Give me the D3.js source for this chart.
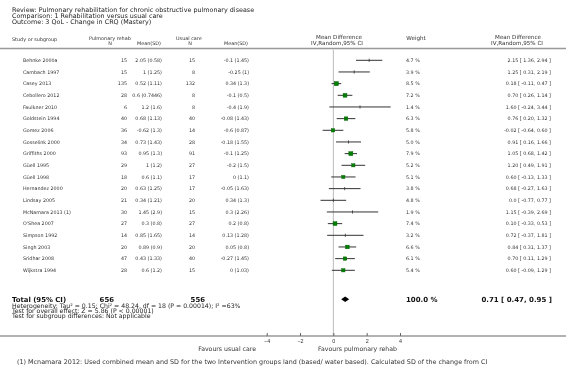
<!DOCTYPE html>
<html>
<head>
<meta charset="utf-8">
<script src="https://cdn.jsdelivr.net/npm/d3@7"></script>
<style>
  html, body { margin: 0; padding: 0; background: #fff; }
  #wrap { will-change: transform; background: transparent; }
  svg { display: block; font-family: "DejaVu Sans", Verdana, sans-serif; }
</style>
</head>
<body>
<div id="wrap"><svg id="chart" width="566" height="373"></svg></div>
<script>
// forest plot: pulmonary rehab vs usual care, CRQ mastery
const titleLines = [
  'Review:  Pulmonary rehabilitation for chronic obstructive pulmonary disease',
  'Comparison:  1 Rehabilitation versus usual care',
  'Outcome:  3 QoL - Change in CRQ (Mastery)'
];
const studies = ['Behnke 2000a', 'Cambach 1997', 'Casey 2013', 'Cebollero 2012', 'Faulkner 2010',
  'Goldstein 1994', 'Gomez 2006', 'Gosselink 2000', 'Griffiths 2000', 'Güell 1995', 'Güell 1998',
  'Hernandez 2000', 'Lindsay 2005', 'McNamara 2013 (1)', "O'Shea 2007", 'Simpson 1992',
  'Singh 2003', 'Sridhar 2008', 'Wijkstra 1994'];
const nRehab = [15, 15, 135, 28, 6, 40, 36, 34, 93, 29, 18, 20, 21, 30, 27, 14, 20, 47, 28];
const meanRehab = ['2.05 (0.58)', '1 (1.25)', '0.52 (1.11)', '0.6 (0.7446)', '1.2 (1.6)', '0.68 (1.13)',
  '-0.62 (1.3)', '0.73 (1.43)', '0.95 (1.3)', '1 (1.2)', '0.6 (1.1)', '0.63 (1.25)', '0.34 (1.21)',
  '1.45 (2.9)', '0.3 (0.8)', '0.85 (1.65)', '0.89 (0.9)', '0.43 (1.33)', '0.6 (1.2)'];
const nUsual = [15, 8, 132, 8, 8, 40, 14, 28, 91, 27, 17, 17, 20, 15, 27, 14, 20, 40, 15];
const meanUsual = ['-0.1 (1.45)', '-0.25 (1)', '0.34 (1.3)', '-0.1 (0.5)', '-0.4 (1.9)', '-0.08 (1.43)',
  '-0.6 (0.87)', '-0.18 (1.55)', '-0.1 (1.25)', '-0.2 (1.5)', '0 (1.1)', '-0.05 (1.63)', '0.34 (1.3)',
  '0.3 (2.26)', '0.2 (0.8)', '0.13 (1.28)', '0.05 (0.8)', '-0.27 (1.45)', '0 (1.03)'];
const weights = [4.7, 3.9, 8.5, 7.2, 1.4, 6.3, 5.8, 5.0, 7.9, 5.2, 5.1, 3.8, 4.8, 1.9, 7.4, 3.2, 6.6, 6.1, 5.4];
const md = [2.15, 1.25, 0.18, 0.70, 1.60, 0.76, -0.02, 0.91, 1.05, 1.20, 0.60, 0.68, 0.0, 1.15, 0.10, 0.72, 0.84, 0.70, 0.60];
const lo = [1.36, 0.31, -0.11, 0.26, -0.24, 0.20, -0.64, 0.16, 0.68, 0.49, -0.13, -0.27, -0.77, -0.39, -0.33, -0.37, 0.31, 0.11, -0.09];
const hi = [2.94, 2.19, 0.47, 1.14, 3.44, 1.32, 0.60, 1.66, 1.42, 1.91, 1.33, 1.63, 0.77, 2.69, 0.53, 1.81, 1.37, 1.29, 1.29];
const ciText = ['2.15 [ 1.36, 2.94 ]', '1.25 [ 0.31, 2.19 ]', '0.18 [ -0.11, 0.47 ]', '0.70 [ 0.26, 1.14 ]',
  '1.60 [ -0.24, 3.44 ]', '0.76 [ 0.20, 1.32 ]', '-0.02 [ -0.64, 0.60 ]', '0.91 [ 0.16, 1.66 ]',
  '1.05 [ 0.68, 1.42 ]', '1.20 [ 0.49, 1.91 ]', '0.60 [ -0.13, 1.33 ]', '0.68 [ -0.27, 1.63 ]',
  '0.0 [ -0.77, 0.77 ]', '1.15 [ -0.39, 2.69 ]', '0.10 [ -0.33, 0.53 ]', '0.72 [ -0.37, 1.81 ]',
  '0.84 [ 0.31, 1.37 ]', '0.70 [ 0.11, 1.29 ]', '0.60 [ -0.09, 1.29 ]'];
const total = { nRehab: 656, nUsual: 556, weight: '100.0 %', md: 0.71, lo: 0.47, hi: 0.95, text: '0.71 [ 0.47, 0.95 ]' };
const notes = [
  'Heterogeneity: Tau² = 0.15; Chi² = 48.24, df = 18 (P = 0.00014); I² =63%',
  'Test for overall effect: Z = 5.86 (P < 0.00001)',
  'Test for subgroup differences: Not applicable'
];
const tickValues = [-4, -2, 0, 2, 4];
const footnote = '(1) Mcnamara 2012: Used combined mean and SD for the two Intervention groups land (based/ water based). Calculated SD of the change from CI';

const svg = d3.select('#chart');
const W = 566;
const fs = 4.8, ink = '#333';
const x = d3.scaleLinear().domain([-4, 4]).range([266.7, 400]);
const y = d3.scaleLinear().domain([0, studies.length - 1]).range([60.3, 270.3]);
const sq = d3.scaleSqrt().domain([5.05, 8.5]).range([3.2, 4.2]);
const yTotal = 299.3, yAxis = 336, yTop = 48.5;

function txt(xp, yp, s, opt = {}) {
  return svg.append('text').attr('x', xp).attr('y', yp).attr('dy', '0.35em')
    .attr('font-size', opt.size || fs).attr('fill', opt.fill || ink)
    .attr('font-weight', opt.bold ? 'bold' : null)
    .attr('text-anchor', opt.anchor || 'start').text(s);
}

// titles
titleLines.forEach((t, i) => txt(12, 9.8 + i * 6, t, { size: 6.4, fill: '#222' }));

// column headers
txt(12, 39, 'Study or subgroup', { size: 4.9 });
txt(89, 38, 'Pulmonary rehab', { size: 4.9 });
txt(110, 43.5, 'N', { anchor: 'middle', size: 4.9 });
txt(161, 43.5, 'Mean(SD)', { anchor: 'end', size: 4.9 });
txt(176, 38, 'Usual care', { size: 4.9 });
txt(190, 43.5, 'N', { anchor: 'middle', size: 4.9 });
txt(248, 43.5, 'Mean(SD)', { anchor: 'end', size: 4.9 });
txt(339, 37.5, 'Mean Difference', { anchor: 'middle', size: 5.6 });
txt(337, 43, 'IV,Random,95% CI', { anchor: 'middle', size: 5.6 });
txt(416, 38, 'Weight', { anchor: 'middle', size: 5.6 });
txt(518, 37.5, 'Mean Difference', { anchor: 'middle', size: 5.6 });
txt(517, 43, 'IV,Random,95% CI', { anchor: 'middle', size: 5.6 });

svg.append('line').attr('x1', 0).attr('x2', W).attr('y1', yTop).attr('y2', yTop)
  .attr('stroke', '#999').attr('stroke-width', 1.5);

// zero line
svg.append('line').attr('x1', x(0)).attr('x2', x(0)).attr('y1', yTop + 1).attr('y2', yAxis)
  .attr('stroke', '#bbb').attr('stroke-width', 1);

// study rows
const rows = svg.selectAll('g.row').data(studies).join('g').attr('class', 'row')
  .attr('transform', (d, i) => `translate(0,${y(i)})`);
rows.append('text').attr('x', 23).text(d => d);
rows.append('text').attr('x', 127).attr('text-anchor', 'end').text((d, i) => nRehab[i]);
rows.append('text').attr('x', 162).attr('text-anchor', 'end').text((d, i) => meanRehab[i]);
rows.append('text').attr('x', 195).attr('text-anchor', 'end').text((d, i) => nUsual[i]);
rows.append('text').attr('x', 249).attr('text-anchor', 'end').text((d, i) => meanUsual[i]);
rows.append('text').attr('x', 406).text((d, i) => weights[i].toFixed(1) + ' %');
rows.append('text').attr('x', 551).attr('text-anchor', 'end').text((d, i) => ciText[i]);
rows.selectAll('text').attr('dy', '0.35em').attr('font-size', fs).attr('fill', ink);

rows.append('line').attr('x1', (d, i) => x(lo[i])).attr('x2', (d, i) => x(hi[i]))
  .attr('stroke', '#333').attr('stroke-width', 1);
rows.filter((d, i) => weights[i] < 5.05).append('line')
  .attr('x1', d => x(md[studies.indexOf(d)])).attr('x2', d => x(md[studies.indexOf(d)]))
  .attr('y1', -1.6).attr('y2', 1.6).attr('stroke', '#333').attr('stroke-width', 0.8);
rows.filter((d, i) => weights[i] >= 5.05).append('rect')
  .each(function (d) {
    const i = studies.indexOf(d), s = sq(weights[i]);
    d3.select(this).attr('x', x(md[i]) - s / 2).attr('y', -s / 2).attr('width', s).attr('height', s);
  })
  .attr('fill', '#008000').attr('stroke', '#005a00').attr('stroke-width', 0.4);

// total row
txt(12, yTotal, 'Total (95% CI)', { size: 6.9, bold: true, fill: '#111' });
txt(114, yTotal, total.nRehab, { size: 6.9, bold: true, fill: '#111', anchor: 'end' });
txt(205, yTotal, total.nUsual, { size: 6.9, bold: true, fill: '#111', anchor: 'end' });
txt(406, yTotal, total.weight, { size: 7, bold: true, fill: '#111' });
txt(552, yTotal, total.text, { size: 7, bold: true, fill: '#111', anchor: 'end' });
const dh = 2.8;
svg.append('path')
  .attr('d', `M${x(total.lo)},${yTotal}L${x(total.md)},${yTotal - dh}L${x(total.hi)},${yTotal}L${x(total.md)},${yTotal + dh}Z`)
  .attr('fill', '#000');

notes.forEach((t, i) => txt(12, 305.6 + i * 5, t, { size: 6.2, fill: '#222' }));

// axis
svg.append('line').attr('x1', 0).attr('x2', W).attr('y1', yAxis).attr('y2', yAxis)
  .attr('stroke', '#999').attr('stroke-width', 1.5);
const axis = svg.append('g').attr('transform', `translate(0,${yAxis})`)
  .call(d3.axisBottom(x).tickValues(tickValues).tickSizeInner(-3).tickSizeOuter(0).tickPadding(3));
axis.select('.domain').remove();
axis.selectAll('.tick line').attr('stroke', '#666');
axis.selectAll('.tick text').attr('font-size', 5.4).attr('fill', ink).attr('font-family', null);

txt(256, 348.5, 'Favours usual care', { anchor: 'end', size: 6.2 });
txt(318, 348.5, 'Favours pulmonary rehab', { size: 6.2 });
txt(17, 362, footnote, { size: 6.4 });
</script>
</body>
</html>
